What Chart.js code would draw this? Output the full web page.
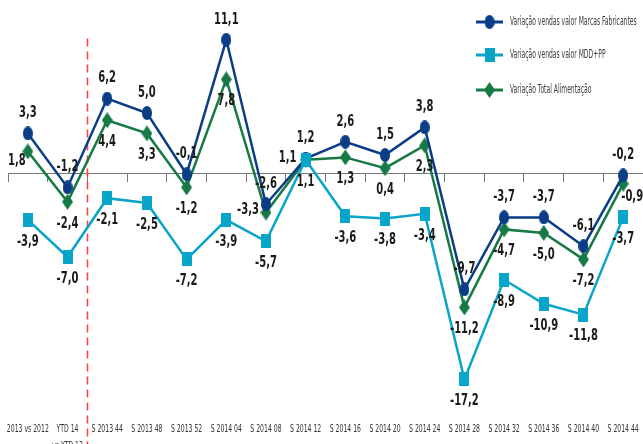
<!DOCTYPE html>
<html>
<head>
<meta charset="utf-8">
<title>Variação vendas</title>
<style>
    html, body { margin: 0; padding: 0; background: #fff; }
    #wrap { position: relative; width: 643px; height: 444px; }
</style>
<script src="https://cdn.jsdelivr.net/npm/chart.js@4.4.1/dist/chart.umd.min.js"></script>
</head>
<body>
<div id="wrap"><canvas id="salesChart"></canvas></div>
<script>
// Chart data
const categories = [
    '2013 vs 2012', ['YTD 14', 'vs YTD 13'], 'S 2013 44', 'S 2013 48', 'S 2013 52',
    'S 2014 04', 'S 2014 08', 'S 2014 12', 'S 2014 16', 'S 2014 20', 'S 2014 24',
    'S 2014 28', 'S 2014 32', 'S 2014 36', 'S 2014 40', 'S 2014 44'
];
const marcasValues = [3.3, -1.2, 6.2, 5.0, -0.1, 11.1, -2.6, 1.2, 2.6, 1.5, 3.8, -9.7, -3.7, -3.7, -6.1, -0.2];
const mddValues = [-3.9, -7.0, -2.1, -2.5, -7.2, -3.9, -5.7, 1.1, -3.6, -3.8, -3.4, -17.2, -8.9, -10.9, -11.8, -3.7];
const totalValues = [1.8, -2.4, 4.4, 3.3, -1.2, 7.8, -3.3, 1.1, 1.3, 0.4, 2.3, -11.2, -4.7, -5.0, -7.2, -0.9];
const seriesNames = [
    'Variação vendas valor Marcas Fabricantes',
    'Variação vendas valor MDD+PP',
    'Variação Total Alimentação'
];

const NARROW = "'DejaVu Sans Condensed', 'Liberation Sans Narrow', sans-serif";
const BLUE = '#0a3d86';
const CYAN = '#08a5ca';
const GREEN = '#177a45';

// the original uses a very narrow font, so text is squeezed horizontally
function narrowText(ctx, text, x, y, sx) {
    ctx.save();
    ctx.translate(x, y);
    ctx.scale(sx, 1);
    ctx.fillText(text, 0, 0);
    ctx.restore();
}

// category axis that draws its labels condensed
class NarrowCategoryScale extends Chart.CategoryScale {
    drawLabels() {
        const ctx = this.ctx;
        const squeeze = this.options.ticks.squeeze || 1;
        this.getLabelItems().forEach(item => {
            const opts = item.options;
            const lines = Array.isArray(item.label) ? item.label : [item.label];
            ctx.save();
            ctx.font = item.font.string;
            ctx.fillStyle = opts.color;
            ctx.textAlign = opts.textAlign;
            ctx.textBaseline = opts.textBaseline;
            lines.forEach((line, k) => {
                narrowText(ctx, line, opts.translation[0],
                    opts.translation[1] + item.textOffset + k * item.font.lineHeight, squeeze);
            });
            ctx.restore();
        });
    }
}
NarrowCategoryScale.id = 'narrowCategory';
NarrowCategoryScale.defaults = Chart.CategoryScale.defaults;
Chart.register(NarrowCategoryScale);

// small marker images (the markers in the original are taller than wide)
function makeMarker(shape, color, w, h) {
    const c = document.createElement('canvas');
    c.width = w;
    c.height = h;
    const g = c.getContext('2d');
    g.fillStyle = color;
    g.beginPath();
    if (shape === 'ellipse') {
        g.ellipse(w / 2, h / 2, w / 2, h / 2, 0, 0, Math.PI * 2);
    } else if (shape === 'diamond') {
        g.moveTo(w / 2, 0);
        g.lineTo(w, h / 2);
        g.lineTo(w / 2, h);
        g.lineTo(0, h / 2);
        g.closePath();
    } else {
        g.rect(0, 0, w, h);
    }
    g.fill();
    return c;
}

const fmt = v => v.toFixed(1).replace('.', ',');

// value labels next to every point
const valueLabels = {
    id: 'valueLabels',
    afterDatasetsDraw(chart) {
        const ctx = chart.ctx;
        const offsets = {
            above: [0, -20],
            below: [0, 22],
            left: [-18, -2],
            lowLeft: [-11, 10],
            right: [9, 13]
        };
        ctx.save();
        ctx.font = 'bold 15px ' + NARROW;
        ctx.fillStyle = '#1a1a1a';
        ctx.textAlign = 'center';
        ctx.textBaseline = 'middle';
        chart.data.datasets.forEach((ds, i) => {
            const meta = chart.getDatasetMeta(i);
            meta.data.forEach((pt, j) => {
                const side = (ds.labelAt && ds.labelAt[j]) || ds.labelSide;
                const [dx, dy] = offsets[side];
                narrowText(ctx, fmt(ds.data[j]), pt.x + dx, pt.y + dy, 0.74);
            });
        });
        ctx.restore();
    }
};

// red dashed separator between the yearly and weekly figures
const separator = {
    id: 'separator',
    beforeDatasetsDraw(chart) {
        const x = chart.scales.x;
        const y = chart.scales.y;
        const px = Math.round((x.getPixelForValue(1) + x.getPixelForValue(2)) / 2) + 0.5;
        const ctx = chart.ctx;
        ctx.save();
        ctx.strokeStyle = '#ff3b3b';
        ctx.lineWidth = 1.5;
        ctx.setLineDash([8, 5]);
        ctx.beginPath();
        ctx.moveTo(px, y.getPixelForValue(11.2));
        ctx.lineTo(px, chart.height);
        ctx.stroke();
        ctx.restore();
    }
};

// legend drawn inside the plot, top right, line + marker
const lineLegend = {
    id: 'lineLegend',
    afterDraw(chart) {
        const ctx = chart.ctx;
        const rows = [22, 55, 90];
        ctx.save();
        ctx.font = '12px ' + NARROW;
        ctx.textBaseline = 'middle';
        ctx.textAlign = 'left';
        chart.data.datasets.forEach((ds, i) => {
            const y = rows[i];
            ctx.strokeStyle = ds.borderColor;
            ctx.lineWidth = 3;
            ctx.beginPath();
            ctx.moveTo(476, y);
            ctx.lineTo(503, y);
            ctx.stroke();
            const img = ds.pointStyle;
            ctx.drawImage(img, 489.5 - img.width / 2, y - img.height / 2);
            ctx.fillStyle = '#3a3a3a';
            narrowText(ctx, ds.label, 510, y, 0.56);
        });
        ctx.restore();
    }
};

const noSidePadding = scale => {
    scale.paddingLeft = 0;
    scale.paddingRight = 0;
};

function createChart() {
    const ctx = document.getElementById('salesChart').getContext('2d');
    new Chart(ctx, {
        type: 'line',
        data: {
            labels: categories,
            datasets: [
                {
                    label: seriesNames[0],
                    data: marcasValues,
                    borderColor: BLUE,
                    backgroundColor: BLUE,
                    borderWidth: 2.5,
                    pointStyle: makeMarker('ellipse', BLUE, 10, 14),
                    labelSide: 'above',
                    order: 1
                },
                {
                    label: seriesNames[1],
                    data: mddValues,
                    borderColor: CYAN,
                    backgroundColor: CYAN,
                    borderWidth: 2.5,
                    pointStyle: makeMarker('rect', CYAN, 10, 14),
                    labelSide: 'below',
                    order: 0
                },
                {
                    label: seriesNames[2],
                    data: totalValues,
                    borderColor: GREEN,
                    backgroundColor: GREEN,
                    borderWidth: 2.5,
                    pointStyle: makeMarker('diamond', GREEN, 11, 16),
                    labelSide: 'below',
                    labelAt: { 0: 'lowLeft', 6: 'left', 7: 'left', 15: 'right' },
                    order: 2
                }
            ]
        },
        options: {
            responsive: true,
            maintainAspectRatio: false,
            animation: false,
            devicePixelRatio: 1,
            layout: {
                autoPadding: false,
                padding: { top: 11, left: 8, right: 0, bottom: 0 }
            },
            plugins: {
                legend: { display: false },
                tooltip: { enabled: false }
            },
            scales: {
                x: {
                    type: 'narrowCategory',
                    offset: true,
                    grid: { display: false },
                    border: { display: false },
                    ticks: {
                        autoSkip: false,
                        maxRotation: 0,
                        minRotation: 0,
                        padding: 11,
                        squeeze: 0.62,
                        color: '#333',
                        font: { family: NARROW, size: 11, lineHeight: 1.6 }
                    },
                    afterFit: scale => {
                        scale.height = 43;
                        noSidePadding(scale);
                    }
                },
                x2: {
                    type: 'category',
                    position: { y: 0 },
                    offset: true,
                    grid: {
                        offset: true,
                        drawOnChartArea: false,
                        drawTicks: true,
                        tickLength: 8,
                        color: '#777'
                    },
                    border: { display: true, color: '#777', width: 1 },
                    ticks: { display: false },
                    afterFit: noSidePadding
                },
                y: {
                    display: false,
                    min: -19,
                    max: 13.5
                }
            }
        },
        plugins: [separator, valueLabels, lineLegend]
    });
}

document.addEventListener('DOMContentLoaded', () => {
    createChart();
});
</script>
</body>
</html>
